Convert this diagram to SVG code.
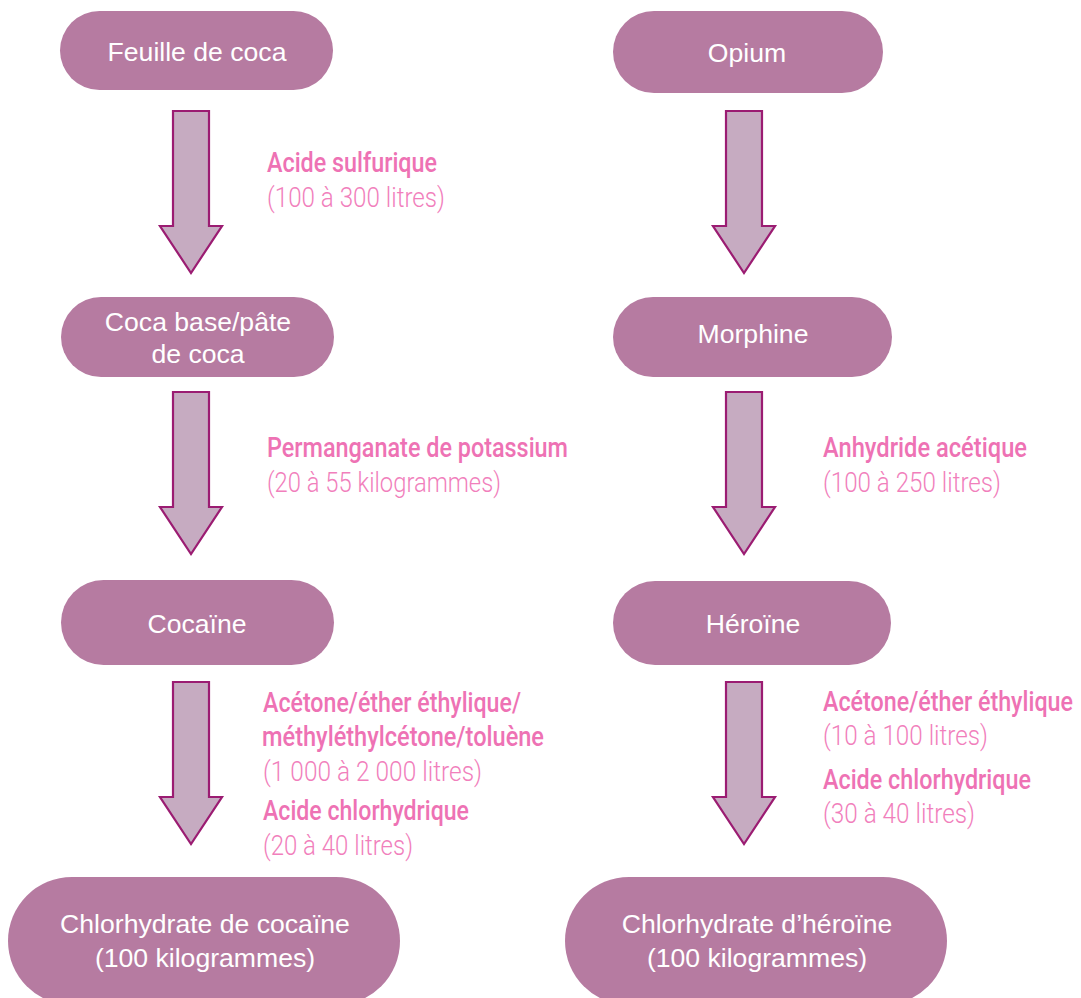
<svg xmlns="http://www.w3.org/2000/svg" xmlns:xlink="http://www.w3.org/1999/xlink" width="1081" height="998" viewBox="0 0 1081 998">
  <style>
    .pill { fill: #b67ba1; }
    .ntext { font-family: "Liberation Sans", Arial, sans-serif; font-size: 26.6px; fill: #ffffff; text-anchor: middle; }
    .arrow { fill: #c6abc1; stroke: #9b1c72; stroke-width: 2.2; stroke-linejoin: miter; }
    .lbl { font-family: Roboto, "Liberation Sans", sans-serif; font-size: 27px; font-weight: 500; fill: #ee72b4; }
    .amt { font-family: Roboto, "Liberation Sans", sans-serif; font-size: 27px; font-weight: 300; fill: #f17fbc; }
  </style>
  <defs>
    <path id="arr" d="M -18 0 L 18 0 L 18 115 L 31 115 L 0 162 L -31 115 L -18 115 Z"/>
  </defs>
  <rect width="1081" height="998" fill="#ffffff"/>

  <g id="connectors">
    <use xlink:href="#arr" class="arrow" transform="translate(191,111)"/>
    <use xlink:href="#arr" class="arrow" transform="translate(191,392)"/>
    <use xlink:href="#arr" class="arrow" transform="translate(191,682)"/>
    <use xlink:href="#arr" class="arrow" transform="translate(744,111)"/>
    <use xlink:href="#arr" class="arrow" transform="translate(744,392)"/>
    <use xlink:href="#arr" class="arrow" transform="translate(744,682)"/>
  </g>

  <g id="labels">
    <text class="lbl" x="267" y="172" textLength="170" lengthAdjust="spacingAndGlyphs">Acide sulfurique</text>
    <text class="amt" x="267" y="207" textLength="178" lengthAdjust="spacingAndGlyphs">(100 à 300 litres)</text>

    <text class="lbl" x="267" y="457" textLength="301" lengthAdjust="spacingAndGlyphs">Permanganate de potassium</text>
    <text class="amt" x="267" y="492" textLength="234" lengthAdjust="spacingAndGlyphs">(20 à 55 kilogrammes)</text>

    <text class="lbl" x="823" y="457" textLength="204" lengthAdjust="spacingAndGlyphs">Anhydride acétique</text>
    <text class="amt" x="823" y="492" textLength="178" lengthAdjust="spacingAndGlyphs">(100 à 250 litres)</text>

    <text class="lbl" x="263" y="712" textLength="258" lengthAdjust="spacingAndGlyphs">Acétone/éther éthylique/</text>
    <text class="lbl" x="262" y="746" textLength="282" lengthAdjust="spacingAndGlyphs">méthyléthylcétone/toluène</text>
    <text class="amt" x="263" y="781" textLength="219" lengthAdjust="spacingAndGlyphs">(1 000 à 2 000 litres)</text>
    <text class="lbl" x="263" y="820" textLength="206" lengthAdjust="spacingAndGlyphs">Acide chlorhydrique</text>
    <text class="amt" x="263" y="855" textLength="150" lengthAdjust="spacingAndGlyphs">(20 à 40 litres)</text>

    <text class="lbl" x="823" y="711" textLength="250" lengthAdjust="spacingAndGlyphs">Acétone/éther éthylique</text>
    <text class="amt" x="823" y="745" textLength="165" lengthAdjust="spacingAndGlyphs">(10 à 100 litres)</text>
    <text class="lbl" x="823" y="789" textLength="208" lengthAdjust="spacingAndGlyphs">Acide chlorhydrique</text>
    <text class="amt" x="823" y="823" textLength="152" lengthAdjust="spacingAndGlyphs">(30 à 40 litres)</text>
  </g>

  <g id="feuille">
    <rect class="pill" x="60" y="11" width="273" height="79" rx="39.5"/>
    <text class="ntext" x="197" y="61">Feuille de coca</text>
  </g>
  <g id="opium">
    <rect class="pill" x="613" y="11" width="270" height="82" rx="41"/>
    <text class="ntext" x="747" y="62">Opium</text>
  </g>
  <g id="cocabase">
    <rect class="pill" x="61" y="297" width="273" height="80" rx="40"/>
    <text class="ntext" x="198" y="331">Coca base/pâte</text>
    <text class="ntext" x="198" y="363">de coca</text>
  </g>
  <g id="morphine">
    <rect class="pill" x="613" y="297" width="279" height="80" rx="40"/>
    <text class="ntext" x="753" y="343">Morphine</text>
  </g>
  <g id="cocaine">
    <rect class="pill" x="61" y="580" width="273" height="85" rx="42.5"/>
    <text class="ntext" x="197" y="633">Cocaïne</text>
  </g>
  <g id="heroine">
    <rect class="pill" x="613" y="581" width="278" height="84" rx="42"/>
    <text class="ntext" x="753" y="633">Héroïne</text>
  </g>
  <g id="chlorcocaine">
    <rect class="pill" x="8" y="877" width="392" height="128" rx="64"/>
    <text class="ntext" x="205" y="933">Chlorhydrate de cocaïne</text>
    <text class="ntext" x="205" y="967">(100 kilogrammes)</text>
  </g>
  <g id="chlorheroine">
    <rect class="pill" x="565" y="877" width="382" height="128" rx="64"/>
    <text class="ntext" x="757" y="933">Chlorhydrate d’héroïne</text>
    <text class="ntext" x="757" y="967">(100 kilogrammes)</text>
  </g>
</svg>
